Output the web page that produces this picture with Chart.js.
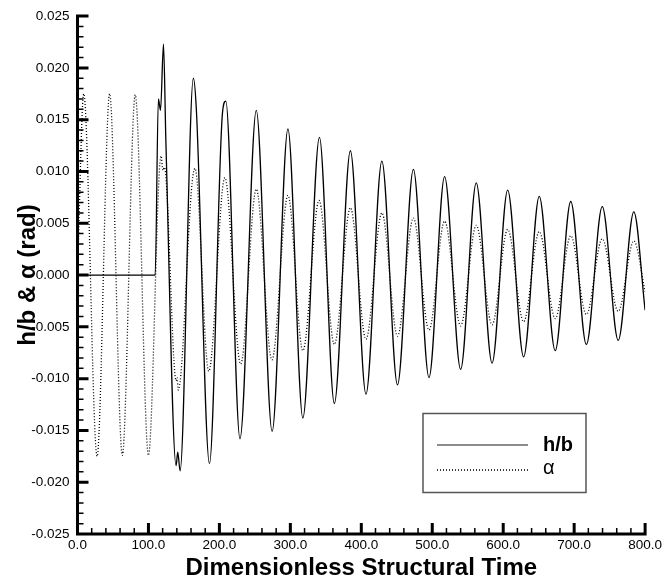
<!DOCTYPE html>
<html>
<head>
<meta charset="utf-8">
<script src="https://cdn.jsdelivr.net/npm/chart.js@4.4.1/dist/chart.umd.min.js"></script>
<style>
html, body { margin: 0; padding: 0; background: #fff; }
#wrap { width: 665px; height: 585px; }
</style>
</head>
<body>
<div id="wrap"><canvas id="flutterChart"></canvas></div>
<script>
// h/b : plunge response (extrema + kinks)
const hbTime = [0, 109.5, 114, 117, 121.2, 124.5, 139, 141.3, 144.6, 163.3, 167.5, 186, 204.4, 209, 229, 252, 274.3,
    296.6, 317.6, 341, 362, 384.6, 406.6, 429, 451, 473.4, 495.4, 517.4, 540, 562, 584.3, 606.3, 628.8,
    650.8, 673.3, 695.2, 717.2, 739.6, 762.1, 784.1, 800];
const hbValue = [0, 0, 0.0170, 0.0159, 0.0223, 0.0131, -0.0184, -0.0171, -0.0189, 0.0190, 0.0160, -0.0182, 0.0157, 0.0168, -0.0158, 0.0159, -0.0151,
    0.0141, -0.0138, 0.0133, -0.0124, 0.0120, -0.0115, 0.0110, -0.0106, 0.0102, -0.0099, 0.0095, -0.0091, 0.0089, -0.0085, 0.0082, -0.0079,
    0.0076, -0.0073, 0.0071, -0.0067, 0.0066, -0.0063, 0.0061, -0.0034];

// alpha : pitch angle (rad)
const alphaTime = [0, 8.8, 27.6, 45.3, 63.2, 81.4, 100, 117.8, 120.5, 122.5, 139, 140.3, 142, 161.5, 165.6, 185, 207.7, 230, 252, 274,
    296.6, 317.6, 340.5, 362, 384.6, 406.6, 429, 451, 473.4, 495.4, 517.4, 540, 562, 584.3, 606.3, 628.8,
    650.8, 673.3, 695.2, 717.2, 739.6, 762.1, 784.1, 800];
const alphaValue = [0, 0.0175, -0.0175, 0.0175, -0.0174, 0.0174, -0.0174, 0.0115, 0.0101, 0.0104, -0.0102, -0.0099, -0.0111, 0.0089, 0.0103, -0.0093, 0.0094, -0.0086, 0.0083, -0.0082,
    0.0077, -0.0073, 0.0072, -0.0067, 0.0065, -0.0062, 0.0060, -0.0059, 0.0055, -0.0053, 0.0052, -0.0049, 0.0048, -0.0048, 0.0044, -0.0045,
    0.0042, -0.0042, 0.0038, -0.0038, 0.0035, -0.0035, 0.0033, -0.0016];

const xTicks = [0, 100, 200, 300, 400, 500, 600, 700, 800];
const yTicks = [-0.025, -0.020, -0.015, -0.010, -0.005, 0, 0.005, 0.010, 0.015, 0.020, 0.025];

const FONT = "'Liberation Sans', Arial, sans-serif";
Chart.defaults.font.family = FONT;
Chart.defaults.color = '#000';

function pts(xs, ys) { return xs.map((t, i) => ({ x: t, y: ys[i] })); }

// axis lines + inward ticks like the original plot
const axisFrame = {
    id: 'axisFrame',
    afterDatasetsDraw(chart) {
        const { ctx, chartArea: a, scales: { x, y } } = chart;
        ctx.save();
        ctx.strokeStyle = '#000';
        ctx.lineWidth = 1.5;
        ctx.beginPath();
        for (let i = -25; i <= 25; i++) {
            if (i % 5 === 0) continue;
            const py = y.getPixelForValue(i / 1000);
            ctx.moveTo(a.left, py); ctx.lineTo(a.left + 6, py);
        }
        for (let v = 20; v < 800; v += 20) {
            if (v % 100 === 0) continue;
            const px = x.getPixelForValue(v);
            ctx.moveTo(px, a.bottom); ctx.lineTo(px, a.bottom - 6);
        }
        ctx.stroke();

        ctx.lineWidth = 3;
        ctx.beginPath();
        yTicks.forEach(v => { const py = y.getPixelForValue(v); ctx.moveTo(a.left, py); ctx.lineTo(a.left + 11, py); });
        xTicks.forEach(v => { const px = x.getPixelForValue(v); ctx.moveTo(px, a.bottom); ctx.lineTo(px, a.bottom - 11); });
        ctx.moveTo(a.left, a.top - 1.5); ctx.lineTo(a.left, a.bottom); ctx.lineTo(a.right + 1.5, a.bottom);
        ctx.stroke();
        ctx.restore();
    }
};

// boxed legend inside the plot, lower right
const boxLegend = {
    id: 'boxLegend',
    afterDraw(chart) {
        const { ctx } = chart;
        ctx.save();
        ctx.strokeStyle = '#555';
        ctx.lineWidth = 1.5;
        ctx.strokeRect(423, 413.5, 163, 79);
        chart.data.datasets.forEach((ds, i) => {
            const ly = 445 + i * 25;
            ctx.beginPath();
            ctx.setLineDash(ds.borderDash || []);
            ctx.lineWidth = 1.5;
            ctx.strokeStyle = i ? '#000' : '#666';
            ctx.moveTo(437, ly); ctx.lineTo(528, ly);
            ctx.stroke();
            ctx.setLineDash([]);
            ctx.fillStyle = '#000';
            ctx.font = (i ? '' : 'bold ') + '20px ' + FONT;
            ctx.textBaseline = 'middle';
            ctx.fillText(ds.label, 543, ly - (i ? 2 : 0));
        });
        ctx.restore();
    }
};

new Chart(document.getElementById('flutterChart').getContext('2d'), {
    type: 'line',
    data: {
        datasets: [
            {
                label: 'h/b', data: pts(hbTime, hbValue),
                borderColor: '#000', borderWidth: 1.3, pointRadius: 0,
                cubicInterpolationMode: 'monotone', fill: false
            },
            {
                label: 'α', data: pts(alphaTime, alphaValue),
                borderColor: '#000', borderWidth: 1.3, borderDash: [1, 2], pointRadius: 0,
                cubicInterpolationMode: 'monotone', fill: false
            }
        ]
    },
    options: {
        responsive: true, maintainAspectRatio: false, animation: false,
        layout: { padding: { top: 13, right: 17.5, left: 0, bottom: 0 } },
        plugins: { legend: { display: false }, tooltip: { enabled: false } },
        scales: {
            x: {
                type: 'linear', min: 0, max: 800,
                afterBuildTicks: s => { s.ticks = xTicks.map(v => ({ value: v })); },
                afterFit: s => { s.height = 51; },
                grid: { display: false, drawTicks: false }, border: { display: false },
                ticks: { padding: 3, font: { size: 13.5 }, maxRotation: 0, callback: v => v.toFixed(1) },
                title: { display: true, text: 'Dimensionless Structural Time', font: { size: 24, weight: 'bold', lineHeight: 1.2 }, padding: { top: 0, bottom: 2 } }
            },
            y: {
                type: 'linear', min: -0.025, max: 0.025,
                afterBuildTicks: s => { s.ticks = yTicks.map(v => ({ value: v })); },
                afterFit: s => { s.width = 77.5; },
                grid: { display: false, drawTicks: false }, border: { display: false },
                ticks: { padding: 8, font: { size: 13.5 }, callback: v => Math.abs(v) < 1e-9 ? '0.000' : v.toFixed(3) },
                title: { display: true, text: 'h/b & α (rad)', font: { size: 24, weight: 'bold', lineHeight: 1.2 }, padding: { top: 14, bottom: 0 } }
            }
        }
    },
    plugins: [axisFrame, boxLegend]
});
</script>
</body>
</html>
